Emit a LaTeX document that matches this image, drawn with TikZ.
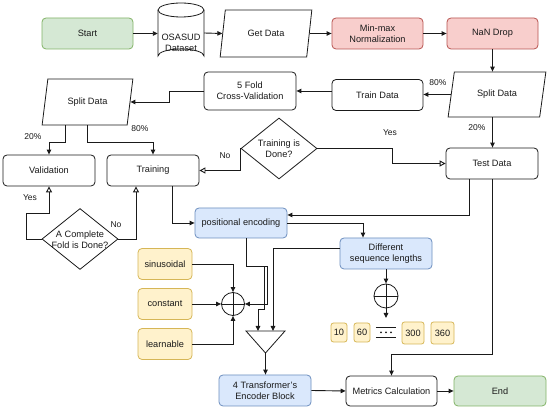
\documentclass[tikz,border=0pt]{standalone}
\usepackage{fontspec}
\setmainfont{Liberation Sans}
\usetikzlibrary{arrows.meta,shapes.geometric,calc}
\definecolor{gfill}{HTML}{D5E8D4}\definecolor{gdraw}{HTML}{82B366}
\definecolor{rfill}{HTML}{F8CECC}\definecolor{rdraw}{HTML}{B85450}
\definecolor{bfill}{HTML}{DAE8FC}\definecolor{bdraw}{HTML}{6C8EBF}
\definecolor{yfill}{HTML}{FFF2CC}\definecolor{ydraw}{HTML}{D6B656}
\definecolor{ink}{HTML}{1A1A1A}
\begin{document}
\begin{tikzpicture}[x=1pt,y=-1pt,
  txt/.style={font=\fontsize{9.2}{10.8}\selectfont, text=ink, align=center},
  lbl/.style={font=\fontsize{8.5}{10}\selectfont, text=ink},
  box/.style={txt, draw=ink, line width=0.8pt, rounded corners=4pt, minimum width=92pt, minimum height=31pt, inner sep=1pt},
  gbox/.style={box, fill=gfill, draw=gdraw},
  rbox/.style={box, fill=rfill, draw=rdraw},
  bbox/.style={box, fill=bfill, draw=bdraw},
  ybox/.style={box, fill=yfill, draw=ydraw, minimum width=54pt},
  sbox/.style={txt, draw=ydraw, fill=yfill, line width=0.8pt, rounded corners=2.5pt, inner sep=1pt},
  para/.style={txt, draw=ink, line width=0.8pt, trapezium, trapezium left angle=74, trapezium right angle=106, trapezium stretches=true, inner sep=1pt},
  dia/.style={draw=ink, line width=0.8pt, diamond, minimum width=76pt, minimum height=61pt, inner sep=0pt},
  conn/.style={draw=ink, line width=0.9pt, -{Triangle[length=5pt,width=4.5pt]}},
  oconn/.style={draw=ink, line width=0.9pt, -{Triangle[open,length=6pt,width=6pt]}},
  plain/.style={draw=ink, line width=0.9pt},
  oplus/.style={circle, draw=ink, line width=0.8pt, minimum size=23pt, inner sep=0pt}
]
\useasboundingbox[fill=white] (0,0) rectangle (550,411);

% top row
\node[gbox, minimum width=91pt] (start) at (87.5,33.5) {Start};
\node[minimum width=46pt, minimum height=60pt, inner sep=0pt] (osa) at (181,33) {};
\draw[draw=ink, line width=0.8pt, fill=white] (158,10) -- (158,56) arc[start angle=180, end angle=360, x radius=23, y radius=7] -- (204,10);
\draw[draw=ink, line width=0.8pt] (181,10) ellipse[x radius=23, y radius=7];
\node[txt] (osatext) at (181,42.5) {OSASUD\\Dataset};
\node[para, minimum width=92pt, minimum height=47pt] (get) at (266,33.5) {Get Data};
\node[rbox, minimum width=91pt] (minmax) at (377.5,33.5) {Min-max\\Normalization};
\node[rbox, minimum width=91pt] (nan) at (492.5,33.5) {NaN Drop};

% second row
\node[para, minimum width=98pt, minimum height=45pt] (split2) at (497,94.5) {Split Data};
\node[box, minimum width=91pt] (train) at (377.5,95) {Train Data};
\node[box, minimum height=38pt] (fold) at (250,91) {5 Fold\\Cross-Validation};
\node[para, minimum width=91pt, minimum height=46pt] (split1) at (87.5,102) {Split Data};

% third row
\node[box] (valid) at (49,170.5) {Validation};
\node[box] (training) at (153,170.5) {Training};
\node[dia] (tdone) at (279,148.5) {};
\node[txt] (tdonetext) at (279,148.5) {Training is\\Done?};
\node[box] (test) at (492,163.5) {Test Data};

% lower part
\node[dia] (cfold) at (80,239) {};
\node[txt] (cfoldtext) at (80,240) {A Complete\\Fold is Done?};
\node[bbox, minimum height=30pt] (posenc) at (241,223) {positional encoding};
\node[bbox] (dsl) at (386,253.5) {Different\\sequence lengths};
\node[ybox] (sin) at (165,264) {sinusoidal};
\node[ybox] (const) at (165,304) {constant};
\node[ybox] (learn) at (165,344) {learnable};
\node[oplus] (plus1) at (233,304) {};
\draw[plain, line width=0.8pt] (plus1.north) -- (plus1.south) (plus1.west) -- (plus1.east);
\node[oplus, minimum size=24pt] (plus2) at (386,296) {};
\draw[plain, line width=0.8pt] (plus2.north) -- (plus2.south) (plus2.west) -- (plus2.east);
\coordinate (seqend) at (386,318);

% merge triangle
\coordinate (triA) at (246,331);
\coordinate (triB) at (285,331);
\coordinate (triC) at (265.5,353);
\coordinate (triL) at (258,331);
\coordinate (triR) at (273,331);
\draw[draw=ink, line width=0.8pt] (triA) -- (triB) -- (triC) -- cycle;

\node[bbox] (enc) at (265,390.5) {4 Transformer's\\Encoder Block};
\node[box, minimum width=91pt, minimum height=30pt] (metrics) at (391.5,391) {Metrics Calculation};
\node[gbox, minimum height=30pt] (endn) at (500,391) {End};

% sequence length boxes
\node[sbox, minimum width=16pt, minimum height=19pt] (b10) at (339,332.5) {10};
\node[sbox, minimum width=16pt, minimum height=19pt] (b60) at (362,332.5) {60};
\node[inner sep=0pt, minimum width=20pt, minimum height=9pt] (bdots) at (386,332.5) {};
\draw[plain, line width=0.8pt] (bdots.north west) -- (bdots.north east) (bdots.south west) -- (bdots.south east);
\fill[ink] (381,332.5) circle[radius=1] (386,332.5) circle[radius=1] (391,332.5) circle[radius=1];
\node[sbox, minimum width=22pt, minimum height=22pt] (b300) at (413,333) {300};
\node[sbox, minimum width=23pt, minimum height=22pt] (b360) at (442.5,333) {360};

% connectors top row
\draw[conn] (start.east) -- (start.east -| osa.west);
\draw[conn] (osa.east) -- (get.west);
\draw[conn] (get.east) -- (minmax.west);
\draw[conn] (minmax.east) -- (nan.west);
\draw[conn] (nan.south) -- (nan.south |- split2.north);
\draw[conn] (split2.west) -- (split2.west -| train.east);
\draw[conn] (train.west |- fold.east) -- (fold.east);
\draw[conn] (fold.west) -- ++(-34,0) |- (split1.east);
\draw[conn] ($(split1.south)+(-22,0)$) -- ++(0,17) -| (valid.north);
\draw[conn] (split1.south) -- ++(0,17) -| (training.north);
\draw[oconn] (tdone.west) |- (training.east);
\draw[oconn] (tdone.east) -- ++(75,0) |- (test.west);
\draw[conn] (nan.south |- split2.south) -- (nan.south |- test.north);
\draw[oconn] (cfold.west) -- ++(-15,0) -- ++(0,-26) -| (valid.south);
\draw[oconn] (cfold.east) -| ($(training.south)+(-17,0)$);
\draw[conn] ($(training.south)+(19,0)$) |- (posenc.west);
\draw[conn] ($(test.south)+(-23,0)$) |- ($(posenc.east)+(0,-8)$);
\draw[conn] (posenc.east) -| ($(dsl.north)+(-23,0)$);
\draw[conn] ($(dsl.west)+(0,-5.5)$) -| (triR);
\draw[conn] ($(posenc.south)+(5,0)$) -- ++(0,28) -- ++(21,0) |- (plus1.east);
\draw[conn] ($(posenc.south)+(5,0)$) -- ++(0,28) -- ++(18,0) -- ++(0,43) -| (triL);
\draw[conn] (sin.east) -| (plus1.north);
\draw[conn] (const.east) -- (plus1.west);
\draw[conn] (learn.east) -| (plus1.south);
\draw[conn] (triC) -- (triC |- enc.north);
\draw[conn] (enc.east) -- (metrics.west);
\draw[conn] (metrics.east) -- (endn.west);
\draw[conn] (test.south) -- ++(0,175) -| (metrics.north);
\draw[conn] (dsl.south) -- (plus2.north);
\draw[conn] (plus2.south) -- (seqend);

% labels
\node[lbl] (l80r) at (438,83) {80\%};
\node[lbl] (l20r) at (477,128) {20\%};
\node[lbl] (l20l) at (33,137) {20\%};
\node[lbl] (l80l) at (140,129) {80\%};
\node[lbl] (lyes1) at (390,133) {Yes};
\node[lbl] (lno1) at (225,156) {No};
\node[lbl] (lyes2) at (30,198) {Yes};
\node[lbl] (lno2) at (116,225) {No};
\end{tikzpicture}
\end{document}
